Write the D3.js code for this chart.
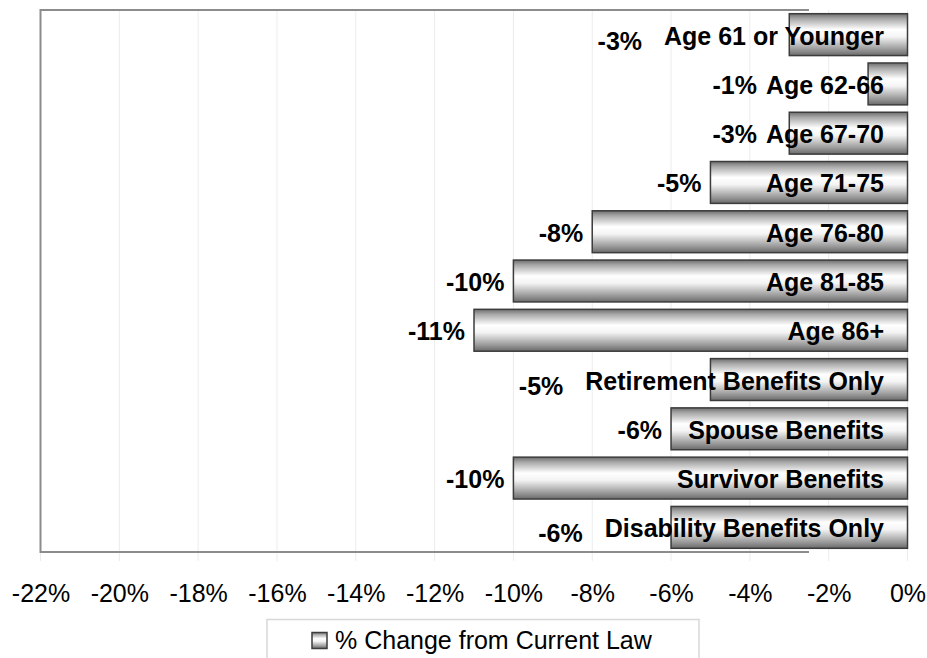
<!DOCTYPE html>
<meta charset="utf-8">
<style>
body { margin: 0; background: #fff; }
text { font-family: "Liberation Sans", Arial, sans-serif; }
.grid line { stroke: #ececec; stroke-width: 1px; }
.cat { font-size: 25px; font-weight: bold; fill: #000; }
.val { font-size: 25px; font-weight: bold; fill: #000; }
</style>
<svg width="927" height="658"></svg>
<script src="https://cdn.jsdelivr.net/npm/d3@7"></script>
<script>

var categories = ["Age 61 or Younger", "Age 62-66", "Age 67-70", "Age 71-75",
    "Age 76-80", "Age 81-85", "Age 86+", "Retirement Benefits Only",
    "Spouse Benefits", "Survivor Benefits", "Disability Benefits Only"];
var values = [-3, -1, -3, -5, -8, -10, -11, -5, -6, -10, -6];
var tickValues = [-22, -20, -18, -16, -14, -12, -10, -8, -6, -4, -2, 0];
var seriesName = "% Change from Current Law";

var svg = d3.select("svg"),
    plotLeft = 40.5, plotRight = 907.5, plotTop = 10, plotBottom = 552;

var x = d3.scaleLinear().domain([-22, 0]).range([plotLeft, plotRight]);
var y = d3.scaleBand().domain(categories).range([plotTop, plotBottom])
    .paddingInner(0.15).paddingOuter(0.075);

// bar gradient
var defs = svg.append("defs");
var grad = defs.append("linearGradient")
    .attr("id", "barGrad").attr("x1", 0).attr("y1", 0).attr("x2", 0).attr("y2", 1);
[[0, "#6e6e6e"], [0.12, "#a8a8a8"], [0.38, "#ffffff"], [0.55, "#f4f4f4"],
 [0.85, "#9a9a9a"], [1, "#6a6a6a"]].forEach(function(s) {
  grad.append("stop").attr("offset", s[0]).attr("stop-color", s[1]);
});

// gridlines (extend a little below the plot as tick marks)
svg.append("g").attr("class", "grid")
  .selectAll("line")
  .data(tickValues)
  .enter().append("line")
    .attr("x1", function(d) { return x(d); })
    .attr("x2", function(d) { return x(d); })
    .attr("y1", plotTop)
    .attr("y2", plotBottom + 9);

// plot frame (left, top, bottom)
var frameEnd = x(-2.5);
svg.append("path")
    .attr("d", "M" + frameEnd + "," + plotTop + "H" + plotLeft + "V" + plotBottom + "H" + frameEnd)
    .attr("fill", "none")
    .attr("stroke", "#8c8c8c")
    .attr("stroke-width", 2);

// axis labels
var xAxis = d3.axisBottom(x)
    .tickValues(tickValues)
    .tickSize(0)
    .tickFormat(function(d) { return d + "%"; });

var ax = svg.append("g")
    .attr("transform", "translate(0," + plotBottom + ")")
    .call(xAxis);
ax.select(".domain").remove();
ax.selectAll("text")
    .attr("y", 50)
    .attr("dy", 0)
    .attr("fill", "#000")
    .style("font-size", "25px")
    .style("font-family", '"Liberation Sans", Arial, sans-serif');

// bars
var rows = categories.map(function(c, i) { return { cat: c, v: values[i] }; });

var g = svg.append("g");
g.selectAll("rect")
  .data(rows)
  .enter().append("rect")
    .attr("x", function(d) { return x(d.v); })
    .attr("y", function(d) { return y(d.cat); })
    .attr("width", function(d) { return x(0) - x(d.v); })
    .attr("height", y.bandwidth())
    .attr("fill", "url(#barGrad)")
    .attr("stroke", "#3c3c3c")
    .attr("stroke-width", 1.5);

// category labels, right aligned inside bars
var cats = g.selectAll("text.cat")
  .data(rows)
  .enter().append("text")
    .attr("class", "cat")
    .attr("x", 884)
    .attr("y", function(d) { return y(d.cat) + y.bandwidth() / 2 + 10; })
    .attr("text-anchor", "end")
    .text(function(d) { return d.cat; });

cats.each(function(d) {
  d.catWidth = this.getComputedTextLength();
  d.catLeft = 884 - d.catWidth;
  d.longLabel = d.catWidth > 212;
});

// value labels, left of bar or left of the category label
g.selectAll("text.val")
  .data(rows)
  .enter().append("text")
    .attr("class", "val")
    .attr("x", function(d) {
      var barLeft = x(d.v);
      if (d.longLabel) return Math.min(barLeft, d.catLeft - 12) - 10;
      return Math.min(barLeft, d.catLeft) - 9;
    })
    .attr("y", function(d) {
      var base = y(d.cat) + y.bandwidth() / 2 + 10;
      return d.longLabel ? base + 5 : base;
    })
    .attr("text-anchor", "end")
    .text(function(d) { return d.v + "%"; });

// legend
var lg = svg.append("g");
lg.append("rect")
    .attr("x", 267).attr("y", 619.5)
    .attr("width", 432).attr("height", 50)
    .attr("fill", "#fff")
    .attr("stroke", "#d8d8d8")
    .attr("stroke-width", 1.5);
lg.append("rect")
    .attr("x", 312).attr("y", 632.5)
    .attr("width", 15).attr("height", 16)
    .attr("fill", "url(#barGrad)")
    .attr("stroke", "#3c3c3c")
    .attr("stroke-width", 1.5);
lg.append("text")
    .attr("x", 335).attr("y", 648.5)
    .style("font-size", "25px")
    .text(seriesName);

</script>
